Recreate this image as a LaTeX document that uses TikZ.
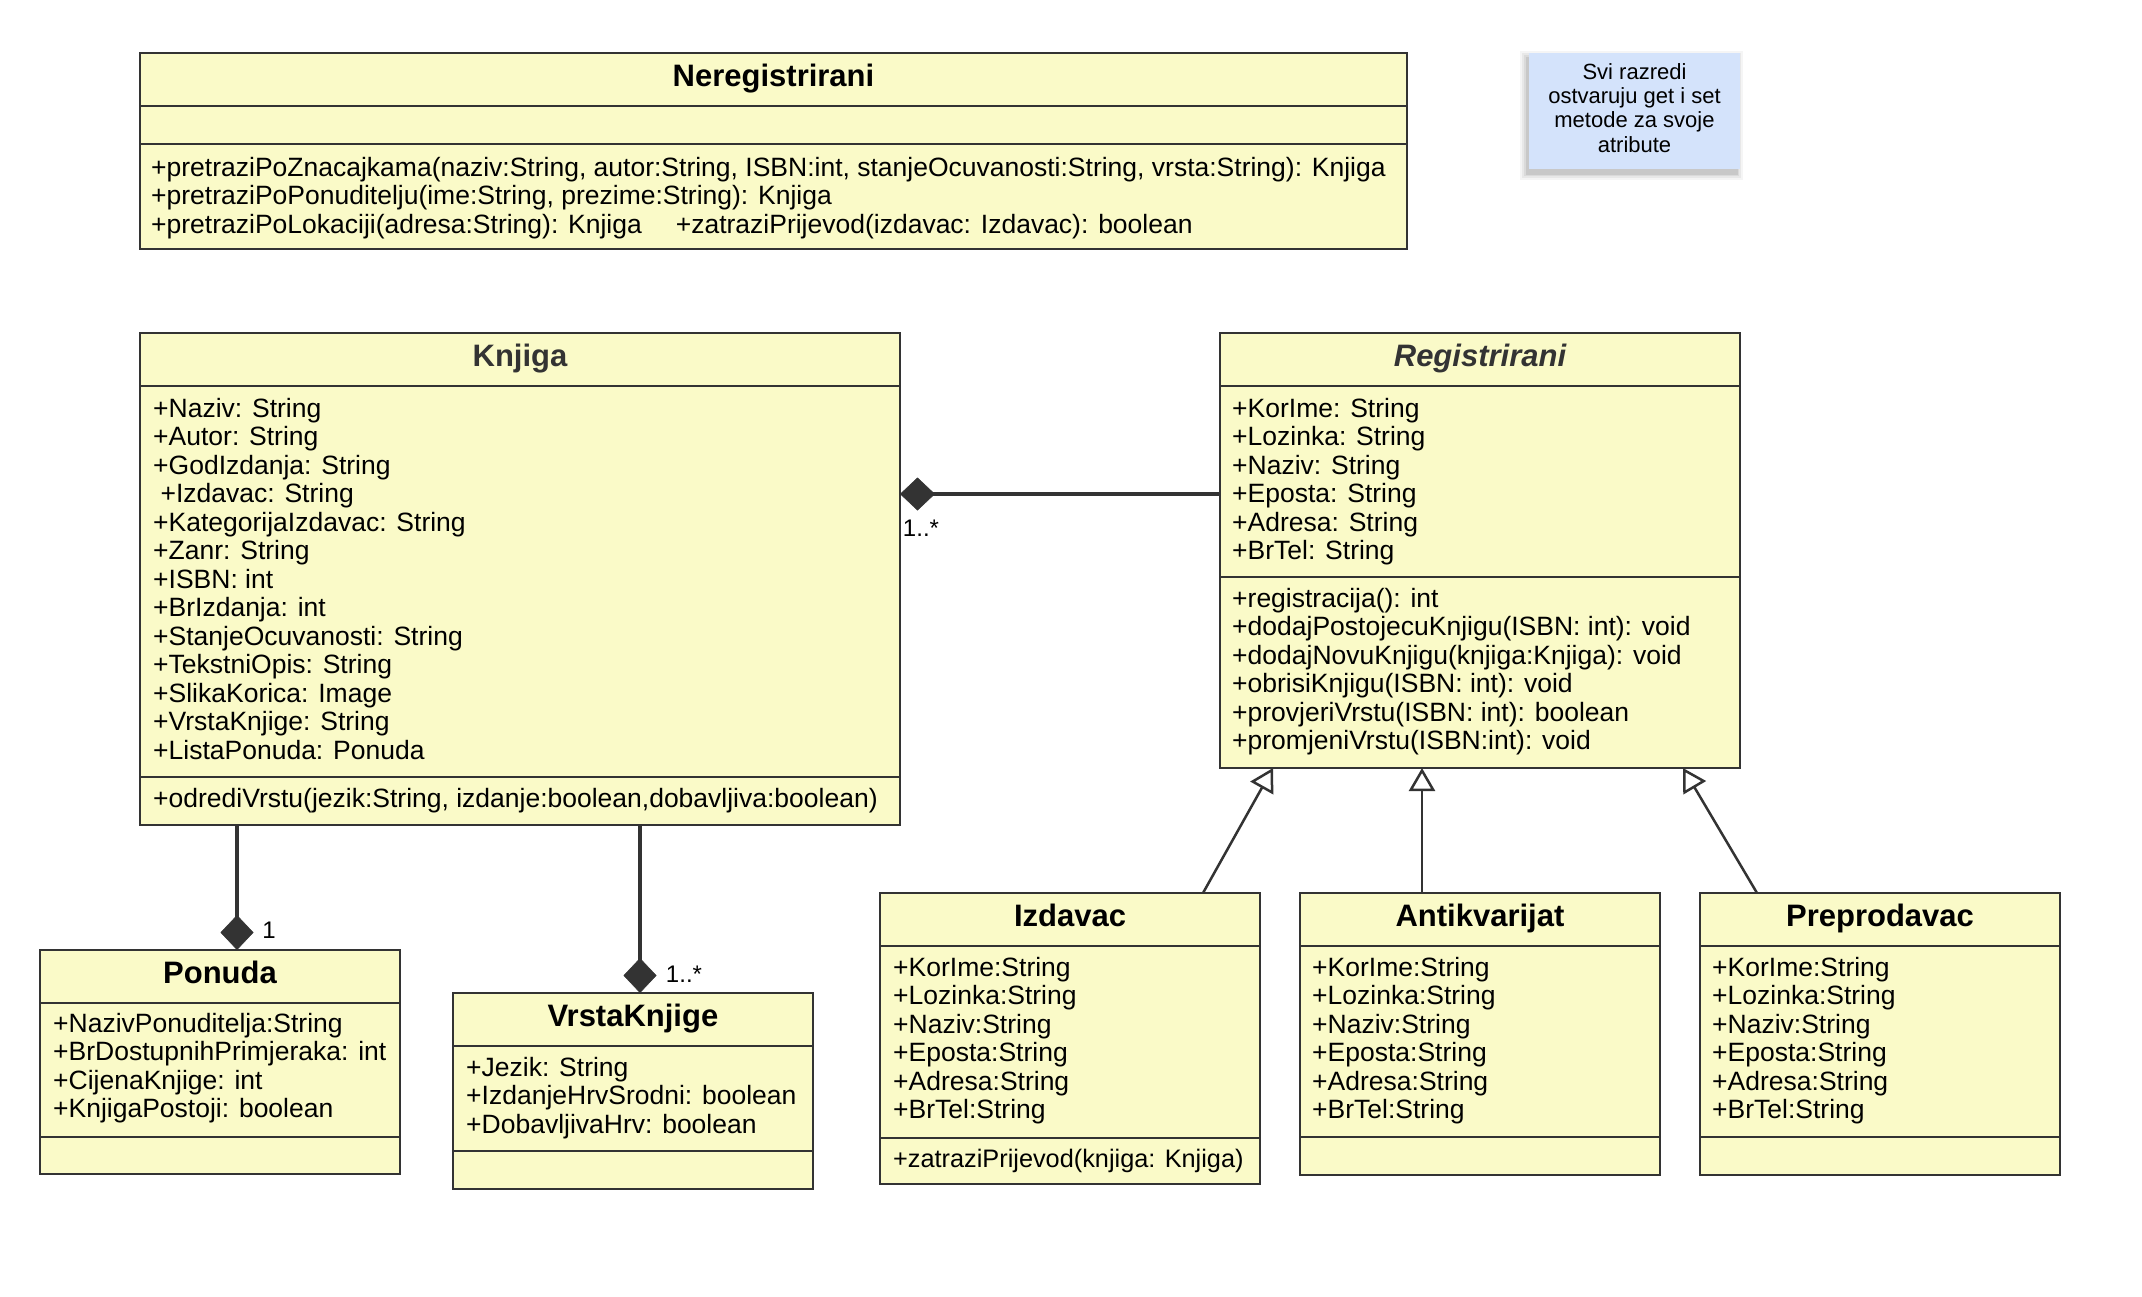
\documentclass[tikz,border=0pt]{standalone}
\usepackage{fontspec}
\setmainfont{Liberation Sans}
\usetikzlibrary{arrows.meta}
\definecolor{clsfill}{RGB}{250,250,200}
\definecolor{clsline}{RGB}{51,51,51}
\definecolor{notefill}{RGB}{212,227,251}
\newcommand\bodyfnt{\fontsize{26.5}{28.5}\selectfont}
\newcommand\smallbodyfnt{\fontsize{25.3}{28.5}\selectfont}
\newcommand\titlefnt{\fontsize{31}{34}\selectfont\bfseries}
\newcommand\notefnt{\fontsize{22}{24.2}\selectfont}
\newcommand\labelfnt{\fontsize{24}{26}\selectfont}
\begin{document}
\begin{tikzpicture}[x=1pt,y=-1pt,
  cls/.style={draw=clsline,fill=clsfill,line width=2.2pt,anchor=north west,inner sep=0pt,outer sep=0pt},
  sepl/.style={draw=clsline,line width=2.2pt},
  ttl/.style={font=\titlefnt,inner sep=0pt,text height=22pt,text depth=6.5pt},
  txt/.style={font=\bodyfnt,anchor=north west,inner sep=0pt,align=left},
  comp/.style={draw=clsline,line width=4pt,-{Diamond[length=35pt,width=33pt,line width=0.5pt,fill=clsline]}},
  gen/.style={draw=clsline,line width=2.5pt,-{Triangle[length=23pt,width=26pt,fill=white]}},
  mult/.style={font=\labelfnt,inner sep=0pt},
  notebox/.style={fill=notefill,anchor=north west,inner sep=0pt,minimum width=211pt,minimum height=116pt}
]
\useasboundingbox (0,0) rectangle (2142,1296);
\fill[white] (0,0) rectangle (2142,1296);

% ---------- Neregistrirani ----------
\node[cls,minimum width=1267pt,minimum height=196pt] (nereg) at (140,53) {};
\draw[sepl] (140,106) -- (1407,106);
\draw[sepl] (140,144) -- (1407,144);
\node[ttl] (neregT) at (773.5,79) {Neregistrirani};
\node[txt] (neregM) at (151,156) {\strut+pretraziPoZnacajkama(naziv:String, autor:String, ISBN:int, stanjeOcuvanosti:String, vrsta:String): Knjiga\\
+pretraziPoPonuditelju(ime:String, prezime:String): Knjiga\\
+pretraziPoLokaciji(adresa:String): Knjiga\hspace{34pt}+zatraziPrijevod(izdavac: Izdavac): boolean};

% ---------- Note ----------
\foreach \d/\o in {6/0.04,4/0.05,2/0.06,0.5/0.08}
  \fill[black,opacity=\o] ({1526-\d},{57-\d}) rectangle ({1737+\d},{174+\d});
\node[notebox] (note) at (1529,53) {};
\node[font=\notefnt,align=center,inner sep=0pt] (noteT) at (1634.5,108) {Svi razredi\\ostvaruju get i set\\metode za svoje\\atribute};

% ---------- Knjiga ----------
\node[cls,minimum width=760pt,minimum height=492pt] (knjiga) at (140,333) {};
\draw[sepl] (140,386) -- (900,386);
\draw[sepl] (140,777) -- (900,777);
\node[ttl,text=clsline] (knjigaT) at (520,359) {Knjiga};
\node[txt] (knjigaA) at (153,397) {\strut+Naziv: String\\
+Autor: String\\
+GodIzdanja: String\\
\hspace*{7.4pt}+Izdavac: String\\
+KategorijaIzdavac: String\\
+Zanr: String\\
+ISBN: int\\
+BrIzdanja: int\\
+StanjeOcuvanosti: String\\
+TekstniOpis: String\\
+SlikaKorica: Image\\
+VrstaKnjige: String\\
+ListaPonuda: Ponuda};
\node[txt] (knjigaM) at (153,787) {\strut+odrediVrstu(jezik:String, izdanje:boolean,dobavljiva:boolean)};

% ---------- Registrirani ----------
\node[cls,minimum width=520pt,minimum height=435pt] (reg) at (1220,333) {};
\draw[sepl] (1220,386) -- (1740,386);
\draw[sepl] (1220,577) -- (1740,577);
\node[ttl,text=clsline,font=\titlefnt\itshape] (regT) at (1480,359) {Registrirani};
\node[txt] (regA) at (1232,397) {\strut+KorIme: String\\
+Lozinka: String\\
+Naziv: String\\
+Eposta: String\\
+Adresa: String\\
+BrTel: String};
\node[txt] (regM) at (1232,587) {\strut+registracija(): int\\
+dodajPostojecuKnjigu(ISBN: int): void\\
+dodajNovuKnjigu(knjiga:Knjiga): void\\
+obrisiKnjigu(ISBN: int): void\\
+provjeriVrstu(ISBN: int): boolean\\
+promjeniVrstu(ISBN:int): void};

% ---------- Ponuda ----------
\node[cls,minimum width=360pt,minimum height=224pt] (ponuda) at (40,950) {};
\draw[sepl] (40,1003) -- (400,1003);
\draw[sepl] (40,1137) -- (400,1137);
\node[ttl] (ponudaT) at (220,976) {Ponuda};
\node[txt] (ponudaA) at (53,1012) {\strut+NazivPonuditelja:String\\
+BrDostupnihPrimjeraka: int\\
+CijenaKnjige: int\\
+KnjigaPostoji: boolean};

% ---------- VrstaKnjige ----------
\node[cls,minimum width=360pt,minimum height=196pt] (vrsta) at (453,993) {};
\draw[sepl] (453,1046) -- (813,1046);
\draw[sepl] (453,1151) -- (813,1151);
\node[ttl] (vrstaT) at (633,1019) {VrstaKnjige};
\node[txt] (vrstaA) at (466,1056) {\strut+Jezik: String\\
+IzdanjeHrvSrodni: boolean\\
+DobavljivaHrv: boolean};

% ---------- Izdavac ----------
\node[cls,minimum width=380pt,minimum height=291pt] (izd) at (880,893) {};
\draw[sepl] (880,946) -- (1260,946);
\draw[sepl] (880,1138) -- (1260,1138);
\node[ttl] (izdT) at (1070,919) {Izdavac};
\node[txt] (izdA) at (893,956) {\strut+KorIme:String\\
+Lozinka:String\\
+Naziv:String\\
+Eposta:String\\
+Adresa:String\\
+BrTel:String};
\node[txt,font=\smallbodyfnt] (izdM) at (893,1147) {\strut+zatraziPrijevod(knjiga: Knjiga)};

% ---------- Antikvarijat ----------
\node[cls,minimum width=360pt,minimum height=282pt] (antik) at (1300,893) {};
\draw[sepl] (1300,946) -- (1660,946);
\draw[sepl] (1300,1137) -- (1660,1137);
\node[ttl] (antikT) at (1480,919) {Antikvarijat};
\node[txt] (antikA) at (1312,956) {\strut+KorIme:String\\
+Lozinka:String\\
+Naziv:String\\
+Eposta:String\\
+Adresa:String\\
+BrTel:String};

% ---------- Preprodavac ----------
\node[cls,minimum width=360pt,minimum height=282pt] (prep) at (1700,893) {};
\draw[sepl] (1700,946) -- (2060,946);
\draw[sepl] (1700,1137) -- (2060,1137);
\node[ttl] (prepT) at (1880,919) {Preprodavac};
\node[txt] (prepA) at (1712,956) {\strut+KorIme:String\\
+Lozinka:String\\
+Naziv:String\\
+Eposta:String\\
+Adresa:String\\
+BrTel:String};

% ---------- Connectors ----------
\draw[comp] ([yshift=-161pt]reg.north west) -- ([yshift=-161pt]knjiga.north east);
\node[mult] (m1) at (921,528) {1..*};
\draw[comp] ([xshift=97pt]knjiga.south west) -- ([xshift=197pt]ponuda.north west);
\node[mult] (m2) at (269,930) {1};
\draw[comp] ([xshift=500pt]knjiga.south west) -- ([xshift=187pt]vrsta.north west);
\node[mult] (m3) at (684,974) {1..*};

\draw[gen] ([xshift=323pt]izd.north west) -- ([xshift=53pt]reg.south west);
\draw[gen] ([xshift=122pt]antik.north west) -- ([xshift=202pt]reg.south west);
\draw[gen] ([xshift=57pt]prep.north west) -- ([xshift=463pt]reg.south west);
\end{tikzpicture}
\end{document}
